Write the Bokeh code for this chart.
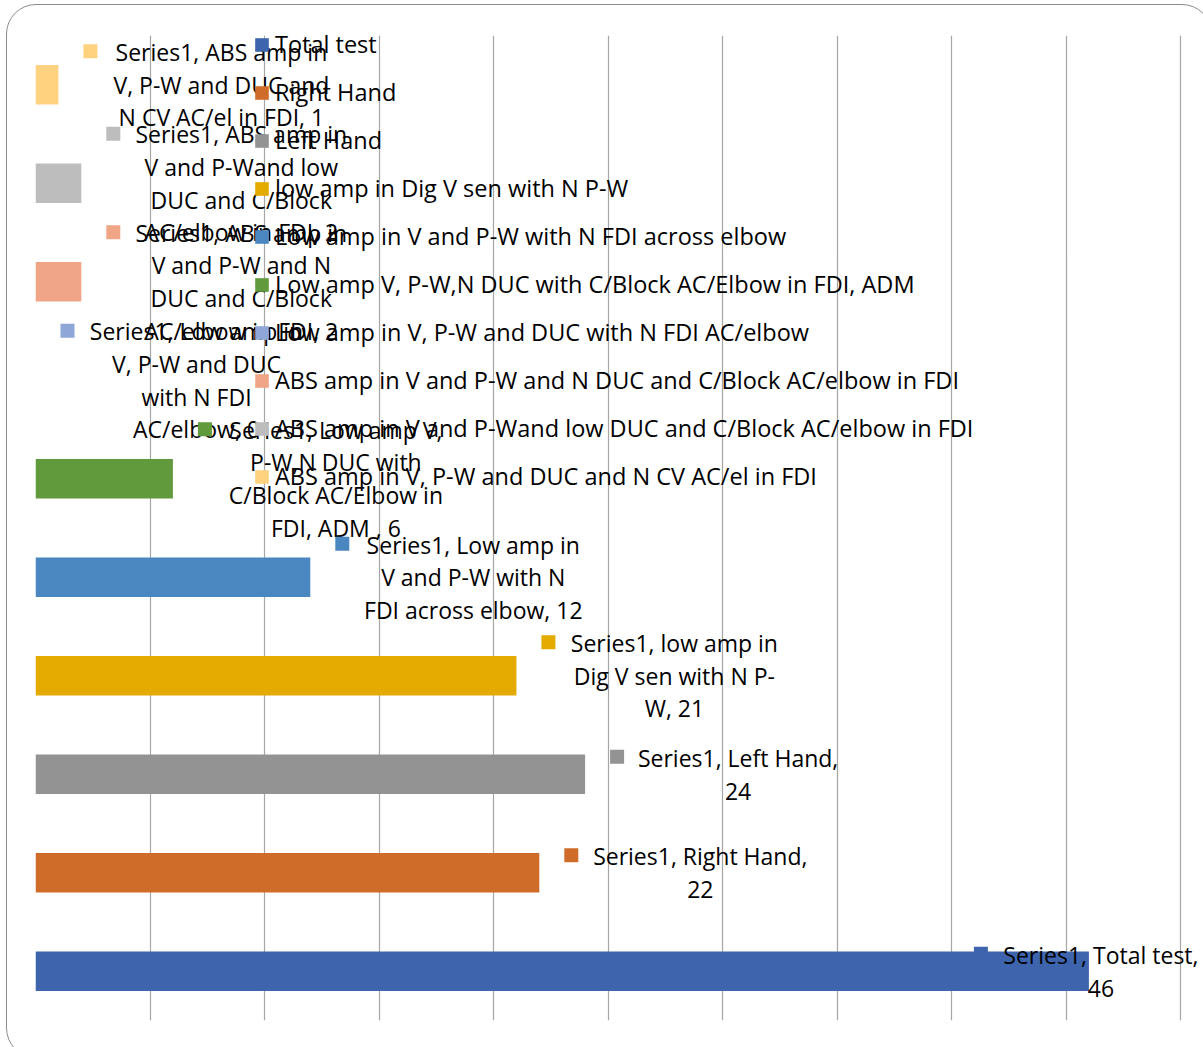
from bokeh.plotting import figure
from bokeh.models import (ColumnDataSource, FactorRange, Range1d, FixedTicker,
                          Legend, LegendItem, InlineStyleSheet)
from bokeh.core.properties import value, field
from bokeh.embed import file_html
from bokeh.resources import INLINE

# ---------------- data (bottom to top) ----------------
categories = [
    "Total test",
    "Right Hand",
    "Left Hand",
    "low amp in Dig V sen with N P-W",
    "Low amp in V and P-W with N FDI across elbow",
    "Low amp V, P-W,N DUC with C/Block AC/Elbow in FDI, ADM",
    "Low amp in V, P-W and DUC with N FDI AC/elbow",
    "ABS amp in V and P-W and N DUC and C/Block AC/elbow in FDI",
    "ABS amp in V and P-Wand low DUC and C/Block AC/elbow in FDI",
    "ABS amp in V, P-W and DUC and N CV AC/el in FDI",
]
values = [46, 22, 24, 21, 12, 6, 0, 2, 2, 1]
colors = ["#3D64AD", "#D06C2A", "#939393", "#E3AA00", "#4A87C0",
          "#609A3C", "#8EA6D8", "#F0A586", "#BDBDBD", "#FFD280"]
# data-label texts as wrapped in the chart (value appended)
label_prefix = [
    "Series1, Total test,\n",
    "Series1, Right Hand,\n",
    "Series1, Left Hand,\n",
    "Series1, low amp in\nDig V sen with N P-\nW, ",
    "Series1, Low amp in\nV and P-W with N\nFDI across elbow, ",
    "Series1, Low amp V,\nP-W,N DUC with\nC/Block AC/Elbow in\nFDI, ADM , ",
    "Series1, Low amp in\nV, P-W and DUC\nwith N FDI\nAC/elbow, ",
    "Series1, ABS amp in\nV and P-W and N\nDUC and C/Block\nAC/elbow in FDI, ",
    "Series1, ABS amp in\nV and P-Wand low\nDUC and C/Block\nAC/elbow in FDI, ",
    "Series1, ABS amp in\nV, P-W and DUC and\nN CV AC/el in FDI, ",
]
x_ticks = list(range(0, 51, 5))
AXIS_MAX = 50

# ---------------- layout constants ----------------
GRID_W, FRAME_H = 1145, 985          # px from 0 to AXIS_MAX, frame height
FRAME_W = 1168                       # frame extends to the window edge
px_per_unit = GRID_W / AXIS_MAX
px_per_cat = FRAME_H / len(categories)
label_dx = [12, 161, 153, 158, 163, 163, 161, 160, 160, 163]   # px, text centre from bar end
marker_dx = [-108, 32, 32, 32, 32, 32, 32, 32, 32, 32]          # px, key square from bar end
LINE_PX = 32
FONT_PX = 23
LEGEND_FONT_PX = 23.5

texts = [p_ + str(v) for p_, v in zip(label_prefix, values)]
nlines = [t.count("\n") + 1 for t in texts]

src = ColumnDataSource(dict(cat=categories, val=values, color=colors))
lab = ColumnDataSource(dict(x=values, y=categories, text=texts, dx=label_dx))
mk = ColumnDataSource(dict(
    x=[v + d / px_per_unit for v, d in zip(values, marker_dx)],
    y=[(c, ((n - 1) * LINE_PX / 2 + 1.5) / px_per_cat) for c, n in zip(categories, nlines)],
    color=colors,
))

sheet = InlineStyleSheet(css="""
:host { position: relative; overflow: clip; }
:host::after { content: ''; position: absolute; left: 6px; top: 4px;
  width: 1206px; height: 1054px; box-sizing: border-box;
  border: 1.3px solid #8c8c8c; border-radius: 30px; pointer-events: none; }
""")

p = figure(
    y_range=FactorRange(factors=categories, range_padding=0),
    x_range=Range1d(0, FRAME_W / px_per_unit),
    frame_width=FRAME_W, frame_height=FRAME_H,
    min_border_left=35, min_border_right=0, min_border_top=35, min_border_bottom=27,
    output_backend="svg", toolbar_location=None,
    stylesheets=[sheet],
)
p.outline_line_color = None
p.xaxis.visible = False
p.yaxis.visible = False
p.ygrid.grid_line_color = None
p.xgrid.ticker = FixedTicker(ticks=x_ticks)
p.xgrid.grid_line_color = "#A6A6A6"
p.xgrid.grid_line_width = 1.2

bars = p.hbar(y="cat", right="val", left=0, height=0.4, color="color",
              line_color=None, source=src)

p.text(x="x", y="y", text="text", source=lab, x_offset="dx", y_offset=0,
       text_align="center", text_baseline="middle",
       text_font=value("Open Sans"), text_font_size=f"{FONT_PX}px",
       text_line_height=LINE_PX / (1.362 * FONT_PX), text_color="#000000")

p.rect(x="x", y="y", width=14, height=14, width_units="screen", height_units="screen",
       fill_color="color", line_color=None, source=mk)

legend = Legend(
    items=[LegendItem(label=field("cat"), renderers=[bars])],
    location=(218, 524),
    orientation="vertical",
    glyph_width=17, glyph_height=17,
    label_height=40, spacing=8, padding=0, margin=0,
    label_standoff=5,
    label_text_font="Open Sans", label_text_font_size=f"{LEGEND_FONT_PX}px",
    label_text_color="#000000",
    background_fill_alpha=0, border_line_color=None,
)
p.add_layout(legend)

open("out.html", "w").write(file_html(p, INLINE))
